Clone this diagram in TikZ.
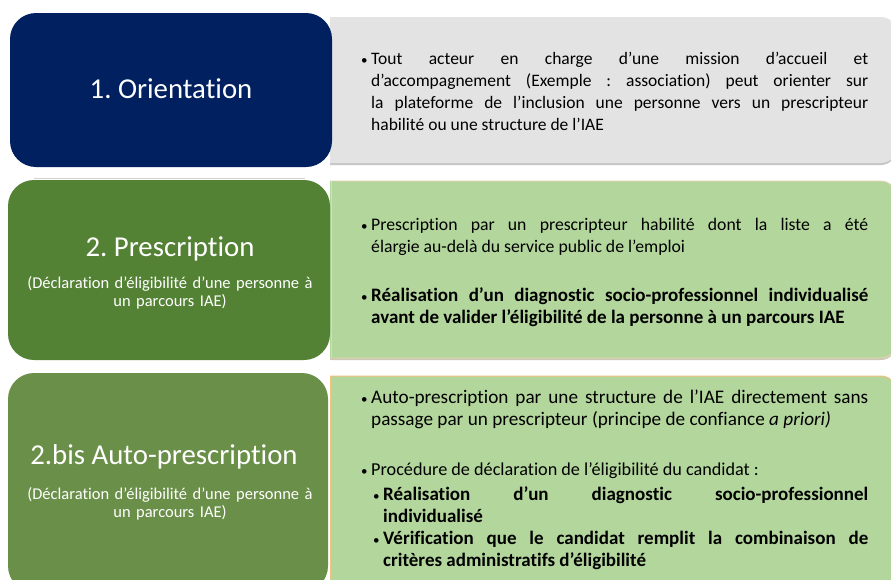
\documentclass[tikz,border=0pt]{standalone}
\usepackage{fontspec}
\setmainfont{Carlito}[Ligatures={NoCommon,NoContextual}]
\definecolor{navy}{HTML}{002060}
\definecolor{gOne}{HTML}{548235}
\definecolor{gTwo}{HTML}{6A8F48}
\definecolor{grayfill}{HTML}{E3E3E3}
\definecolor{grayshadow}{HTML}{C6C6C6}
\definecolor{lgreen}{HTML}{B3D69C}
\definecolor{lshadow}{HTML}{CDC8B4}
\definecolor{orangeline}{HTML}{F2C27F}
\definecolor{beigeline}{HTML}{E6D5B5}
\newcommand{\bodyfont}{\frenchspacing\fontsize{17.5}{22}\selectfont}
\newcommand{\boldbody}{\frenchspacing\fontsize{19}{22}\selectfont\bfseries}
\newcommand{\titlefont}{\frenchspacing\fontsize{28.8}{34}\selectfont}
\newcommand{\subfont}{\frenchspacing\fontsize{16.5}{18}\selectfont}
\newcommand{\bul}{\leavevmode\llap{{\fontsize{13}{13}\selectfont\normalfont •}\hspace{3.5pt}}}
\begin{document}
\frenchspacing
\begin{tikzpicture}[x=1pt,y=-1pt,
  stagebox/.style={rounded corners=26pt, inner sep=0pt, draw=none},
  title/.style={anchor=base, inner sep=0pt, text=white, font=\titlefont},
  subtitle/.style={anchor=base, inner sep=0pt, text=white, font=\subfont, text width=300pt, align=center},
  para/.style={anchor=base west, inner sep=0pt, text width=497pt, align=justify, font=\bodyfont},
  subpara/.style={para, text width=485pt}
]
\useasboundingbox (0,0) rectangle (891,579);
\fill[white] (0,0) rectangle (891,579);

% right panels
\begin{scope}
\clip (330,0) rectangle (891,579);
\fill[grayshadow, rounded corners=15pt] (300,18.5) rectangle (896,165);
\fill[grayfill, rounded corners=15pt] (300,17) rectangle (896,163);
\fill[lshadow, rounded corners=15pt] (300,182) rectangle (896,360);
\fill[lgreen, rounded corners=15pt] (300,181) rectangle (896,358);
\draw[beigeline, line width=0.8pt, rounded corners=15pt] (300,181) rectangle (896,358);
\fill[lgreen, rounded corners=15pt] (300,376) rectangle (896,640);
\draw[orangeline, line width=1pt, rounded corners=15pt] (300,376) rectangle (896,640);
\end{scope}
\draw[beigeline, line width=0.8pt] (331,181) -- (331,358);
\draw[orangeline, line width=1pt] (330.5,376) -- (330.5,579);

% faint line above box 2
\draw[gray!35, line width=1pt] (34,178) -- (305,178);

% left boxes
\node[stagebox, fill=navy, minimum width=322pt, minimum height=154pt] (b1) at (171,90) {};
\node[stagebox, fill=gOne, minimum width=322pt, minimum height=180pt] (b2) at (169,270) {};
\node[stagebox, fill=gTwo, minimum width=320pt, minimum height=219pt] (b3) at (168,482.5) {};

% titles
\node[title] (h1) at (171,98) {1. Orientation};
\node[title] (h2) at (170,256) {2. Prescription};
\node[subtitle] (s2) at (170,288) {(Déclaration d’éligibilité d’une personne à\\un parcours IAE)};
\node[title] (h3) at (164,464) {2.bis Auto-prescription};
\node[subtitle] (s3) at (170,499) {(Déclaration d’éligibilité d’une personne à\\un parcours IAE)};

% body texts
\node[para] (t1) at (371,64) {\bul Tout acteur en charge d’une mission d’accueil et\linebreak d’accompagnement (Exemple : association) peut orienter sur\linebreak la plateforme de l’inclusion une personne vers un prescripteur\linebreak habilité ou une structure de l’IAE};

\node[para, font=\frenchspacing\fontsize{17.7}{22}\selectfont] (t2a) at (371,230) {\bul Prescription par un prescripteur habilité dont la liste a été\linebreak élargie au-delà du service public de l’emploi};
\node[para, font=\boldbody] (t2b) at (371,301) {\bul Réalisation d’un diagnostic socio-professionnel individualisé\linebreak avant de valider l’éligibilité de la personne à un parcours IAE};

\node[para, font=\frenchspacing\fontsize{19.2}{22}\selectfont] (t3a) at (371,403) {\bul Auto-prescription par une structure de l’IAE directement sans\linebreak passage par un prescripteur (principe de confiance \textit{a priori)}};
\node[para, font=\frenchspacing\fontsize{18.2}{22}\selectfont] (t3b) at (371,475) {\bul Procédure de déclaration de l’éligibilité du candidat :};
\node[subpara, font=\boldbody] (t3c) at (383,500) {\bul Réalisation d’un diagnostic socio-professionnel\linebreak individualisé};
\node[subpara, font=\boldbody] (t3d) at (383,544) {\bul Vérification que le candidat remplit la combinaison de\linebreak critères administratifs d’éligibilité};
\end{tikzpicture}
\end{document}
